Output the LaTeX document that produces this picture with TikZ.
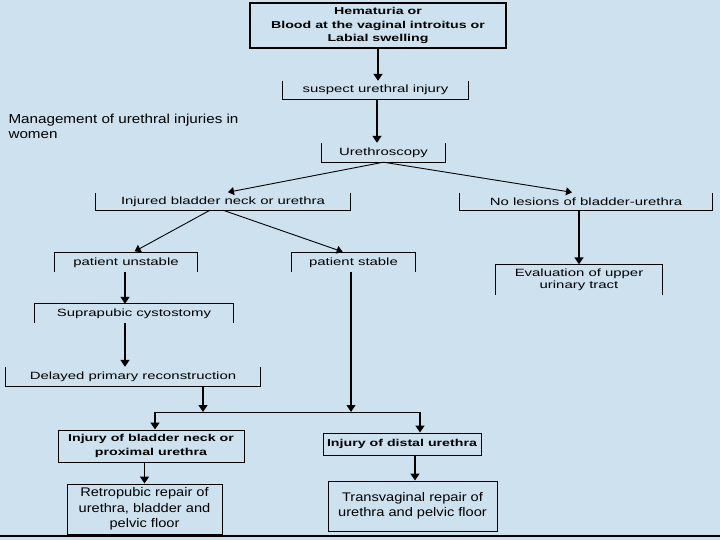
\documentclass[tikz,border=0pt]{standalone}
\usepackage{fontspec}
\setmainfont[FakeStretch=1.17]{Liberation Sans}
\newfontfamily\widefont[FakeStretch=1.42]{Liberation Sans}
\usetikzlibrary{arrows.meta}
\definecolor{slidebg}{RGB}{205,225,238}

\tikzset{
  box/.style={inner sep=0pt, align=center, font=\widefont\fontsize{10.5}{12}\selectfont},
  boldbox/.style={box, font=\widefont\bfseries\fontsize{10}{13.5}\selectfont},
  bigbox/.style={inner sep=0pt, align=center, font=\fontsize{12.5}{15.5}\selectfont},
  edge/.style={line width=1.2pt},
  arr/.style={-{Triangle[width=9pt,length=7pt]}, line width=1.6pt},
  diag/.style={-{Triangle[width=8pt,length=6pt]}, line width=0.9pt, shorten >=3pt},
}

\begin{document}
\begin{tikzpicture}[x=1pt,y=-1pt]
    \fill[slidebg] (0,0) rectangle (720,540);
    \useasboundingbox (0,0) rectangle (720,540);
    %title
    \node[anchor=north west, align=left, font=\fontsize{13}{15}\selectfont] (title) at (5,111)
        {Management of urethral injuries in\\women};
    %boxes
    \node[boldbox, draw, edge, minimum width=256pt, minimum height=45pt] (hem) at (378,25.5)
        {Hematuria or\\Blood at the vaginal introitus or\\Labial swelling};
    \node[box, minimum width=185pt, minimum height=18pt] (sus) at (375.5,90) {suspect urethral injury};
    \node[box, minimum width=123pt, minimum height=19pt] (uro) at (383.5,152.5) {Urethroscopy};
    \node[box, minimum width=254pt, minimum height=17pt] (inj) at (223,201.5) {Injured bladder neck or urethra};
    \node[box, minimum width=252pt, minimum height=17pt] (nol) at (586,201.5) {No lesions of bladder-urethra};
    \node[box, minimum width=142pt, minimum height=19pt] (uns) at (126,262.5) {patient unstable};
    \node[box, minimum width=123pt, minimum height=19pt] (sta) at (353.5,262.5) {patient stable};
    \node[box, minimum width=166pt, minimum height=30pt] (eva) at (579,279.5) {Evaluation of upper\\urinary tract};
    \node[box, minimum width=198pt, minimum height=19pt] (cys) at (134,313.5) {Suprapubic cystostomy};
    \node[box, minimum width=254pt, minimum height=19pt] (del) at (133,376.5) {Delayed primary reconstruction};
    \node[boldbox, draw, line width=1pt, minimum width=186pt, minimum height=32pt] (prox) at (151,446)
        {Injury of bladder neck or\\proximal urethra};
    \node[boldbox, draw, line width=1pt, minimum width=158pt, minimum height=22pt] (dist) at (402,444)
        {Injury of distal urethra};
    \node[bigbox, draw, line width=1pt, minimum width=155pt, minimum height=50pt] (retro) at (144.5,509)
        {Retropubic repair of\\urethra, bladder and\\pelvic floor};
    \node[bigbox, draw, line width=1pt, minimum width=169pt, minimum height=50pt] (trans) at (412.5,506)
        {Transvaginal repair of\\urethra and pelvic floor};
    %open sides
    \foreach \n in {sus, uro, inj, nol, del}
        \draw[edge] (\n.north west) |- (\n.south east) -- (\n.north east);
    \foreach \n in {uns, sta, eva, cys}
        \draw[edge] (\n.south west) |- (\n.north east) -- (\n.south east);
    %arrows
    \draw[arr] (hem.south) -- (hem.south |- sus.north);
    \draw[arr] ([xshift=1.5pt]sus.south) -- ([xshift=1.5pt]sus.south |- uro.north);
    \draw[diag] (uro.south) -- ([xshift=2pt]inj.north);
    \draw[diag] (uro.south) -- ([xshift=-11pt]nol.north);
    \draw[diag] ([xshift=-13pt]inj.south) -- ([xshift=6pt]uns.north);
    \draw[diag] (inj.south) -- ([xshift=-8pt]sta.north);
    \draw[arr] (eva.north |- nol.south) -- (eva.north);
    \draw[arr, line width=1.2pt] ([xshift=-1pt]uns.south) -- ([xshift=-1pt]uns.south |- cys.north);
    \draw[arr] ([xshift=-9pt]cys.south) -- ([xshift=-9pt]cys.south |- del.north);
    \coordinate (jl) at (155,412);
    \coordinate (jr) at (420,412);
    \draw[line width=1pt] (jl) -- (jr);
    \draw[arr] ([xshift=70pt]del.south) -- ([xshift=70pt]del.south |- jl);
    \draw[arr, line width=1.2pt] ([xshift=-2.5pt]sta.south) -- ([xshift=-2.5pt]sta.south |- jl);
    \draw[arr] (jl) -- (jl |- prox.north);
    \draw[arr] (jr) -- (jr |- dist.north);
    \draw[arr] (retro.north |- prox.south) -- (retro.north);
    \draw[arr] ([xshift=2.5pt]trans.north |- dist.south) -- ([xshift=2.5pt]trans.north);
    %bottom rule
    \draw[line width=2pt] (0,536) -- (720,536);
\end{tikzpicture}
\end{document}
